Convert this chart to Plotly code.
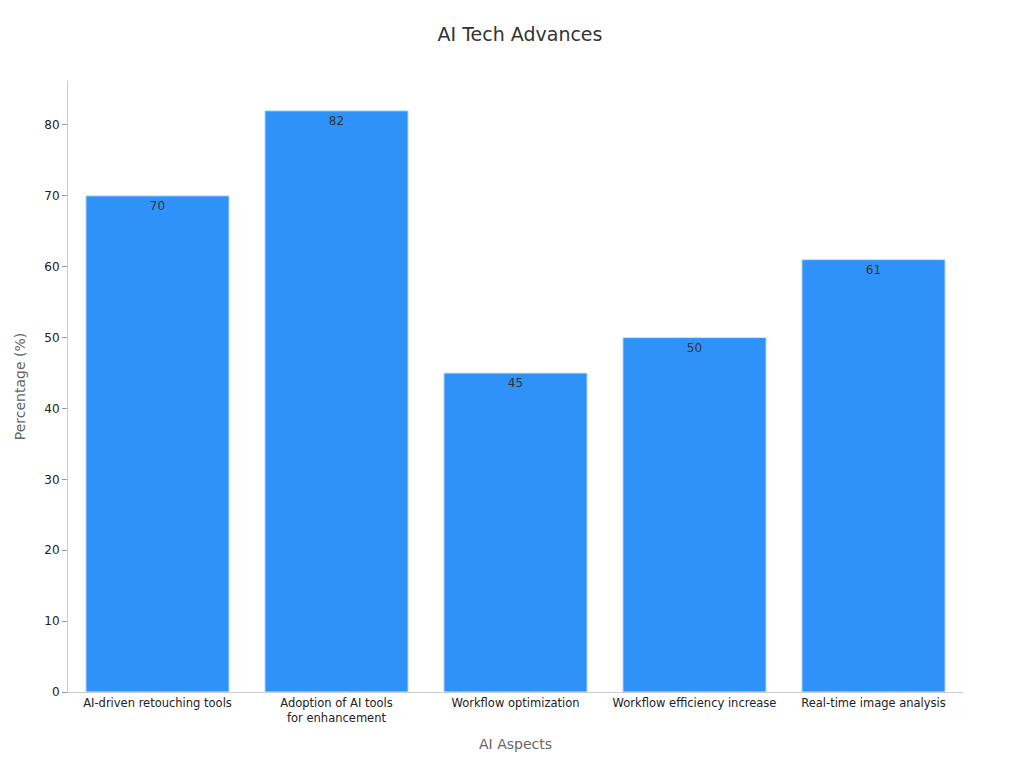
import plotly.graph_objects as go

categories = ["AI-driven retouching tools", "Adoption of AI tools<br>for enhancement",
              "Workflow optimization", "Workflow efficiency increase", "Real-time image analysis"]
values = [70, 82, 45, 50, 61]

fig = go.Figure(go.Bar(
    x=categories, y=values, text=[str(v) for v in values],
    textposition="inside", insidetextanchor="end",
    textfont=dict(color="#333333", size=12),
    marker=dict(color="#2f92f8", line=dict(color="#d0e4f7", width=1)),
))
fig.update_layout(
    width=1024, height=768,
    font=dict(family="DejaVu Sans, sans-serif", size=12, color="#222222"),
    title=dict(text="AI Tech Advances", x=0.5, y=0.975, xanchor="center",
               font=dict(size=19, color="#333333")),
    plot_bgcolor="white", paper_bgcolor="white",
    margin=dict(l=53, r=69, t=73, b=84),
    bargap=0.2, showlegend=False,
    xaxis=dict(title=dict(text="AI Aspects", font=dict(size=14, color="#666666")),
               showline=True, linecolor="#cccccc", ticks="", tickfont=dict(size=11.5)),
    yaxis=dict(title=dict(text="Percentage (%)", font=dict(size=14, color="#666666")),
               range=[0, 86.2], dtick=10, showgrid=False, showline=True,
               linecolor="#cccccc", ticks="outside", ticklen=5, tickcolor="#999999",
               tickfont=dict(size=12)),
)
fig.write_html("out.html")
